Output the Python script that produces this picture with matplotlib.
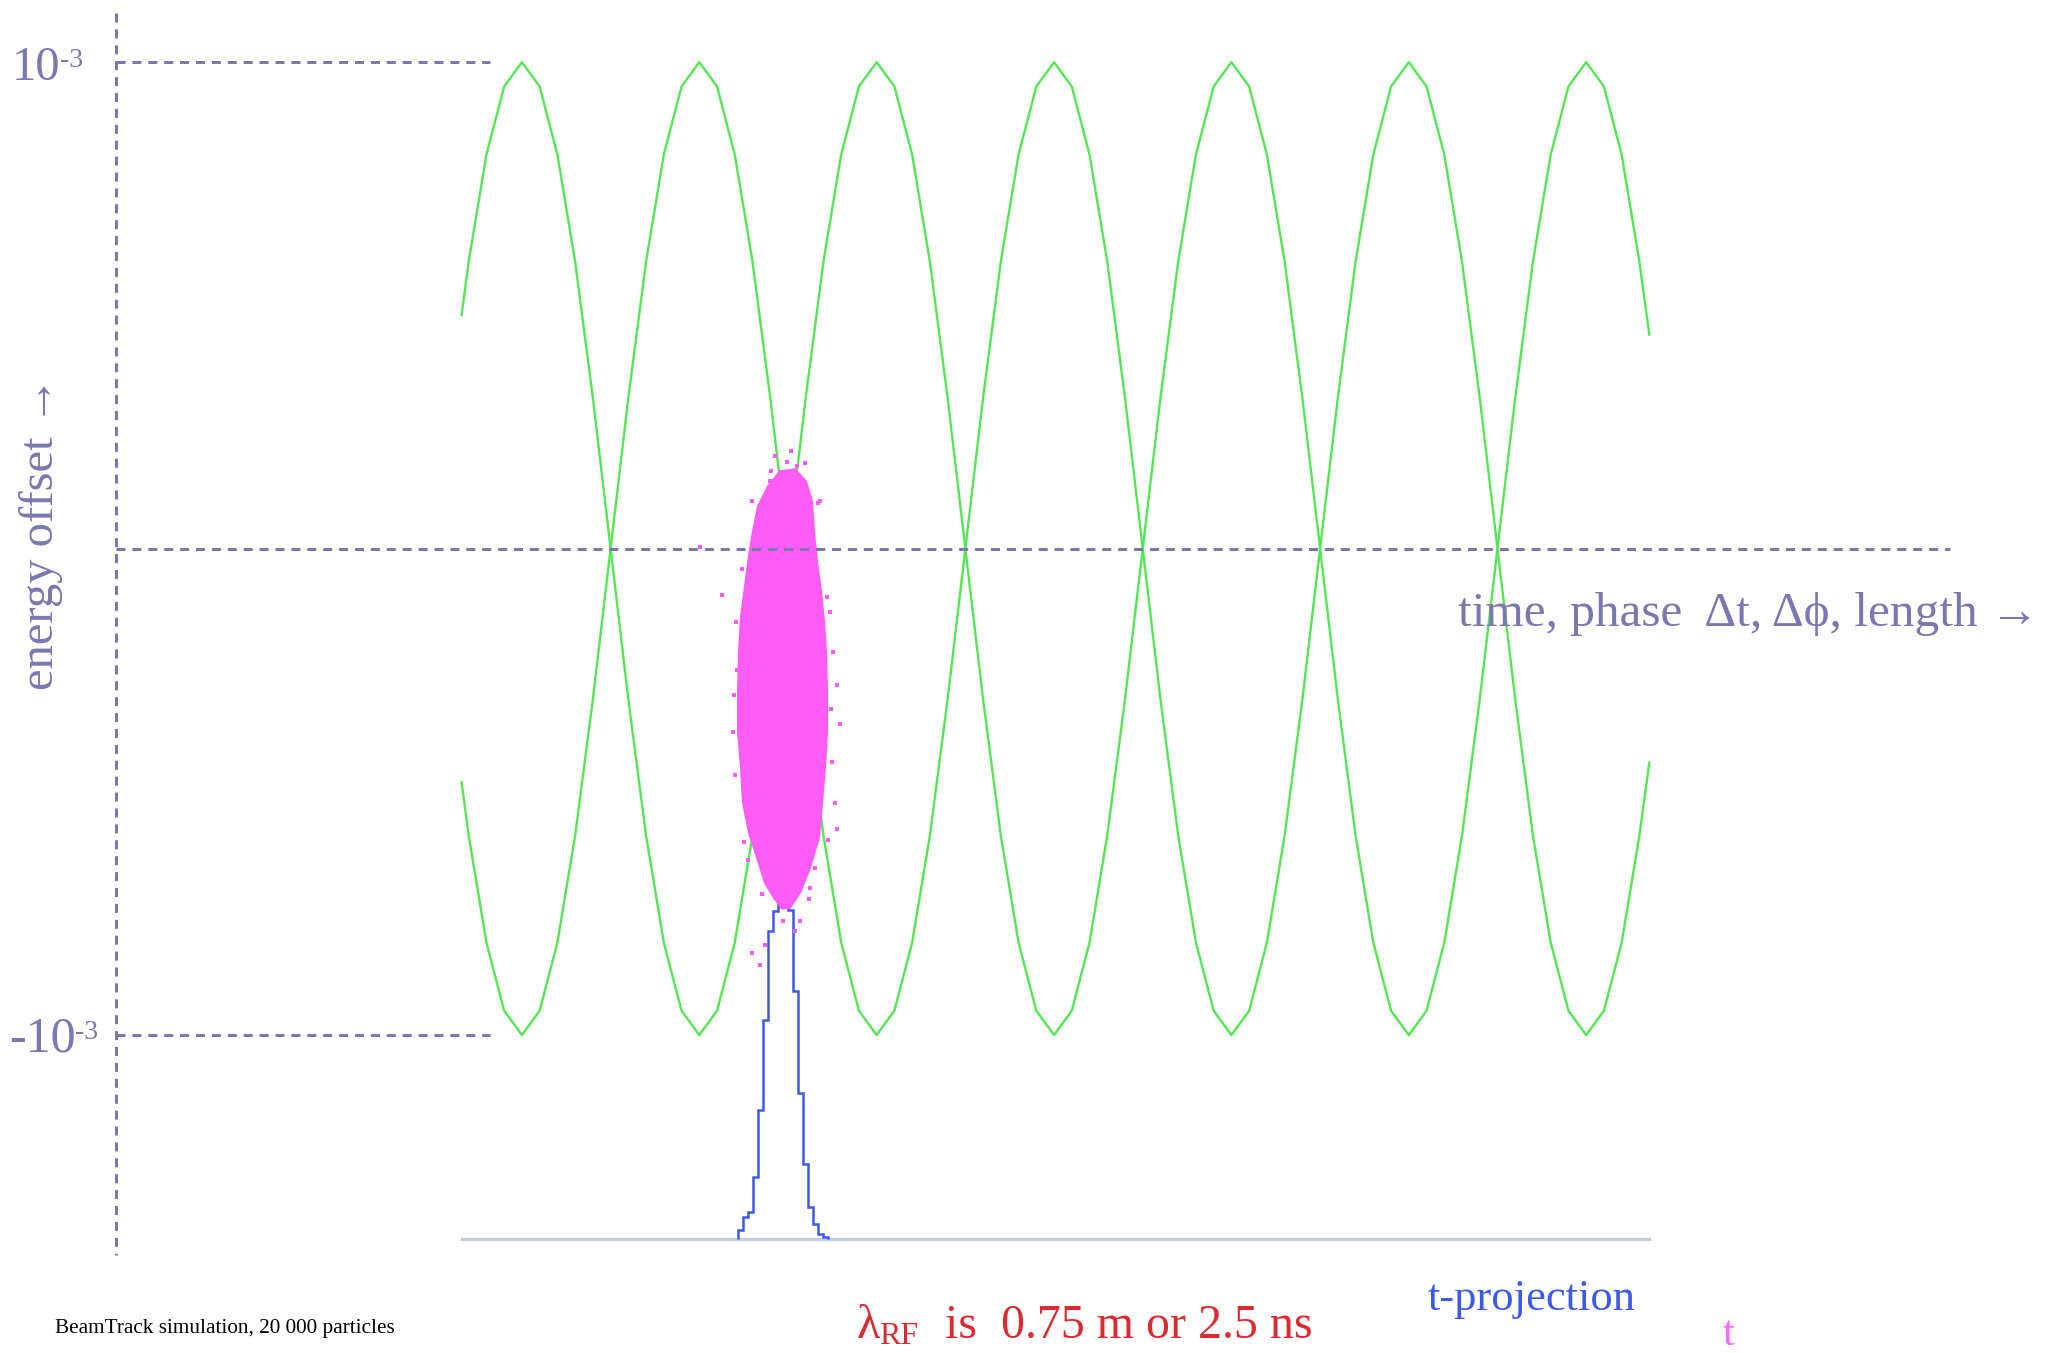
import matplotlib
matplotlib.use("Agg")
import matplotlib.pyplot as plt
from matplotlib.patches import Polygon
import numpy as np

# ---------------- data (time t in ns, energy offset in units of 1e-3) -------------
rf_t = [-2.30, -2.250, -2.125, -2.000, -1.875, -1.750, -1.625, -1.500, -1.375, -1.250,
        -1.125, -1.000, -0.875, -0.750, -0.625, -0.500, -0.375, -0.250, -0.125, 0.000,
        0.125, 0.250, 0.375, 0.500, 0.625, 0.750, 0.875, 1.000, 1.125, 1.250,
        1.375, 1.500, 1.625, 1.750, 1.875, 2.000, 2.125, 2.250, 2.375, 2.500,
        2.625, 2.750, 2.875, 3.000, 3.125, 3.250, 3.375, 3.500, 3.625, 3.750,
        3.875, 4.000, 4.125, 4.250, 4.375, 4.500, 4.625, 4.750, 4.875, 5.000,
        5.125, 5.250, 5.375, 5.500, 5.625, 5.750, 5.875, 6.000, 6.07]
rf_wave = [0.48, 0.59, 0.81, 0.95, 1.00, 0.95, 0.81, 0.59, 0.31, 0.00,
           -0.31, -0.59, -0.81, -0.95, -1.00, -0.95, -0.81, -0.59, -0.31, 0.00,
           0.31, 0.59, 0.81, 0.95, 1.00, 0.95, 0.81, 0.59, 0.31, 0.00,
           -0.31, -0.59, -0.81, -0.95, -1.00, -0.95, -0.81, -0.59, -0.31, 0.00,
           0.31, 0.59, 0.81, 0.95, 1.00, 0.95, 0.81, 0.59, 0.31, 0.00,
           -0.31, -0.59, -0.81, -0.95, -1.00, -0.95, -0.81, -0.59, -0.31, 0.00,
           0.31, 0.59, 0.81, 0.95, 1.00, 0.95, 0.81, 0.59, 0.44]

# t-projection histogram (counts per bin)
hist_edges = [-0.352, -0.317, -0.282, -0.247, -0.211, -0.176, -0.141, -0.106, -0.070,
              -0.035, 0.000, 0.035, 0.070, 0.106, 0.141, 0.176, 0.211, 0.247, 0.282]
hist_counts = [69, 168, 206, 474, 978, 1665, 2345, 2498, 2559, 2559, 2506, 1887,
               1108, 573, 244, 115, 38, 15]

# outline of the dense particle bunch (t, dE)
bunch_t = [0.049, 0.127, 0.169, 0.183, 0.204, 0.233, 0.254, 0.268, 0.275, 0.275, 0.261,
           0.240, 0.218, 0.155, 0.085, 0.014, -0.042, -0.099, -0.162, -0.218, -0.275,
           -0.317, -0.331, -0.352, -0.352, -0.345, -0.331, -0.303, -0.275, -0.247,
           -0.211, -0.141, -0.056]
bunch_e = [0.163, 0.138, 0.097, 0.035, -0.027, -0.089, -0.151, -0.212, -0.295, -0.377,
           -0.449, -0.522, -0.594, -0.656, -0.707, -0.738, -0.740, -0.718, -0.687,
           -0.635, -0.584, -0.522, -0.449, -0.377, -0.295, -0.212, -0.140, -0.078,
           -0.016, 0.035, 0.087, 0.128, 0.159]
# sparse halo particles
halo_t = [-0.254, 0.226, -0.127, -0.007, 0.063, -0.465, 0.345, 0.366, 0.331, 0.345,
          -0.374, -0.620, -0.324, 0.275, 0.317, -0.388, 0.211, -0.254, -0.197, -0.162,
          -0.035, 0.049, 0.085, -0.183, 0.155, -0.282, 0.190, -0.366, 0.296, 0.310,
          -0.310, -0.092, 0.120, -0.380, 0.300, 0.285, -0.360, 0.020, -0.120, 0.150]
halo_e = [0.097, 0.097, 0.138, 0.179, 0.169, -0.095, -0.280, -0.361, -0.522, -0.577,
          -0.466, 0.004, -0.041, -0.099, -0.212, -0.377, 0.093, -0.831, -0.856, -0.814,
          -0.765, -0.786, -0.765, -0.711, -0.697, -0.641, -0.656, -0.151, -0.130, -0.439,
          -0.604, 0.190, 0.175, -0.300, -0.330, -0.600, -0.250, 0.200, 0.160, -0.720]

# ---------------- style / layout -------------
W, H = 2059, 1353
PURPLE = "#7b77b0"
GREEN = "#55e655"
PINK = "#ff5cf6"
BLUE = "#3c5ae6"
RED = "#dc2a32"
SERIF = ["Liberation Serif", "DejaVu Serif"]

t_left, t_right = -2.297, 6.068
hist_base = -1.419
hist_scale = 2.699e-4
axis_t = -4.739

fig = plt.figure(figsize=(W / 100, H / 100), dpi=100)
ax = fig.add_axes([0, 0, 1, 1])
ax.set_xlim(-5.553, 8.957)
ax.set_ylim(-1.6536, 1.1278)
ax.axis("off")

# RF waves
wave = np.array(rf_wave)
ax.plot(rf_t, wave, color=GREEN, lw=1.7, zorder=1)
ax.plot(rf_t, -wave, color=GREEN, lw=1.7, zorder=1)

# projection baseline and histogram
ax.plot([t_left, t_right], [hist_base, hist_base], color="#c5cbe6", lw=2.4, zorder=1)
ax.stairs(hist_base + np.array(hist_counts) * hist_scale, hist_edges,
          baseline=hist_base, color=BLUE, lw=1.8, zorder=2)

# particle bunch
ax.add_patch(Polygon(np.column_stack([bunch_t, bunch_e]), closed=True,
                     facecolor=PINK, edgecolor=PINK, lw=1.5, zorder=3))
ax.scatter(halo_t, halo_e, s=10, marker="s", color=PINK, linewidths=0, zorder=3)

# dashed guide lines
dash = dict(color=PURPLE, lw=2.16, ls=(0, (3, 2.3)), zorder=4)
ax.plot([axis_t, axis_t], [1.101, -1.452], **dash)
ax.plot([axis_t, -2.100], [1, 1], **dash)
ax.plot([axis_t, -2.100], [-1, -1], **dash)
ax.plot([axis_t, 8.189], [0, 0], **dash)


def ftext(px, py, s, **kw):
    kw.setdefault("family", SERIF)
    kw.setdefault("ha", "left")
    kw.setdefault("va", "baseline")
    fig.text(px / W, 1 - py / H, s, **kw)


ftext(12, 80, "10", size=35, color=PURPLE)
ftext(60, 67, "-3", size=20, color=PURPLE)
ftext(9, 1052, "-10", size=36, color=PURPLE)
ftext(75, 1039, "-3", size=20, color=PURPLE)

fig.text(53 / W, 1 - 690 / H, "energy offset \u2192", family=SERIF, size=35,
         color=PURPLE, rotation=90, rotation_mode="anchor", ha="left", va="baseline")
ftext(1458, 626, "time, phase  \u0394t, \u0394\u03d5, length \u2192", size=35.5, color=PURPLE)

ftext(857, 1338, "\u03bb", size=35, color=RED)
ftext(879, 1344, "RF", size=23, color=RED)
ftext(945, 1338, "is  0.75 m or 2.5 ns", size=34.5, color=RED)
ftext(1428, 1310, "t-projection", size=32, color=BLUE)
ftext(1723, 1345, "t", size=31, color="#ff66ff")
ftext(55, 1333, "BeamTrack simulation, 20 000 particles", size=15.3, color="black")

fig.savefig("out.png", dpi=100, facecolor="white")
